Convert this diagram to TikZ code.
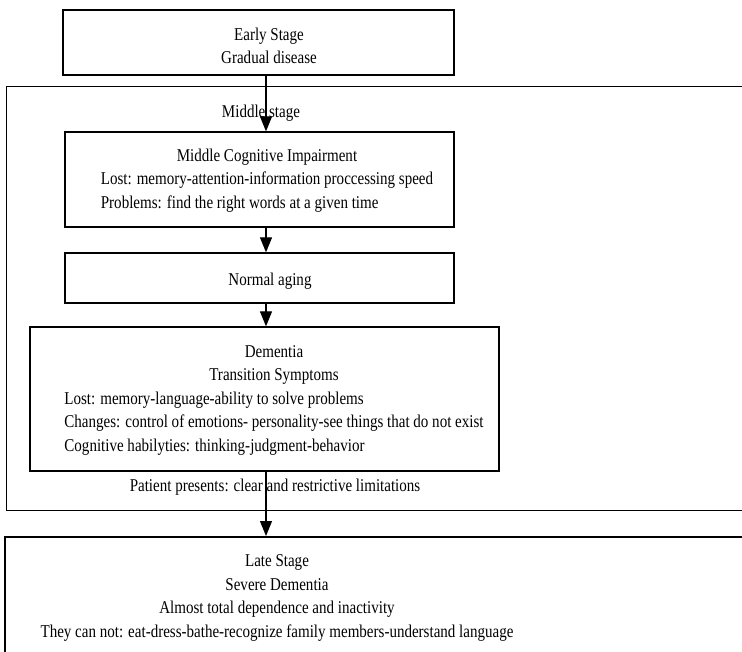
\documentclass[tikz,border=0pt]{standalone}
\usepackage{fontspec}
\setmainfont{Liberation Serif}[FakeStretch=0.835]
\usetikzlibrary{arrows.meta, positioning, calc}

\begin{document}
\begin{tikzpicture}[x=1pt, y=-1pt,
    box/.style={draw, line width=1.3pt, inner sep=0pt},
    txt/.style={align=center, inner sep=0pt, font=\fontsize{18}{23.5}\selectfont},
    arrow/.style={-{Triangle[length=15pt, width=12pt]}, line width=1.1pt}
]
    \useasboundingbox (0,0) rectangle (742,652);
    \clip (0,0) rectangle (742,652);

    % frames
    \node[box, minimum width=391pt, minimum height=65pt] (early) at (258.5,42.5) {};
    \node[box, minimum width=780pt, minimum height=424pt, anchor=north west] (middle) at (6,86) {};
    \node[box, minimum width=389pt, minimum height=95pt] (mci) at (259.5,179.5) {};
    \node[box, minimum width=389pt, minimum height=50pt] (aging) at (259.5,278) {};
    \node[box, minimum width=469pt, minimum height=144pt] (dementia) at (264.5,399) {};
    \node[box, line width=1.7pt, minimum width=780pt, minimum height=140pt, anchor=north west] (late) at (4,536) {};

    % texts
    \node[txt] (earlytxt) at (269,46) {Early Stage\\Gradual disease};
    \node[txt] (middletxt) at (261,113) {Middle stage};
    \node[txt] (mcitxt) at (267,180) {\begin{tabular}{@{}l@{}}
        \multicolumn{1}{@{}c@{}}{Middle Cognitive Impairment}\\
        Lost: memory-attention-information proccessing speed\\
        Problems: find the right words at a given time
    \end{tabular}};
    \node[txt] (agingtxt) at (270,281) {Normal aging};
    \node[txt] (dementiatxt) at (274,399.5) {\begin{tabular}{@{}l@{}}
        \multicolumn{1}{@{}c@{}}{Dementia}\\
        \multicolumn{1}{@{}c@{}}{Transition Symptoms}\\
        Lost: memory-language-ability to solve problems\\
        Changes: control of emotions- personality-see things that do not exist\\
        Cognitive habilyties: thinking-judgment-behavior
    \end{tabular}};
    \node[txt] (patienttxt) at (275,487) {Patient presents: clear and restrictive limitations};
    \node[txt] (latetxt) at (277,598) {Late Stage\\Severe Dementia\\Almost total dependence and inactivity\\They can not: eat-dress-bathe-recognize family members-understand language};

    % arrows
    \coordinate (axis) at (266,0);
    \draw[arrow] (early.south -| axis) -- (mci.north -| axis);
    \draw[arrow] (mci.south -| axis) -- (aging.north -| axis);
    \draw[arrow] (aging.south -| axis) -- (dementia.north -| axis);
    \draw[arrow] (dementia.south -| axis) -- (late.north -| axis);
\end{tikzpicture}
\end{document}
